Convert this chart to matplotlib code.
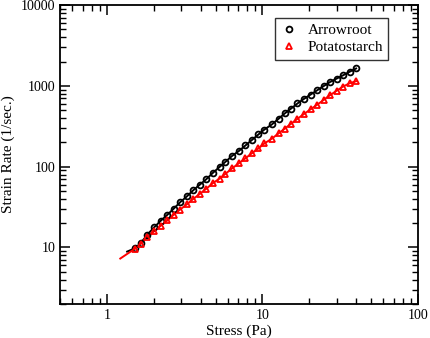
import matplotlib
matplotlib.use("Agg")
import matplotlib.pyplot as plt
from matplotlib.ticker import LogLocator, NullFormatter, FixedLocator, FixedFormatter

plt.rcParams['font.family'] = ['Liberation Serif', 'DejaVu Sans']

# Stress (Pa) at the measured points
stress = [1.52, 1.65, 1.82, 2.01, 2.22, 2.45, 2.69, 2.95, 3.27, 3.59, 3.96, 4.37, 4.80,
          5.30, 5.79, 6.39, 7.05, 7.78, 8.54, 9.42, 10.3, 11.5, 12.7, 13.9, 15.3, 16.8,
          18.5, 20.4, 22.5, 24.7, 27.1, 30.0, 33.0, 36.5, 40.0]
# Strain rate (1/sec.)
arrowroot = [9.8, 11.3, 14.4, 17.7, 21.4, 25.4, 30.2, 36.1, 42.9, 51.0, 59.9, 70.3, 83.7,
             99.0, 115, 136, 156, 183, 213, 250, 288, 333, 391, 455, 524, 605, 690, 780,
             882, 990, 1110, 1230, 1350, 1500, 1640]
potato = [9.7, 11.1, 13.4, 15.8, 18.6, 21.6, 25.4, 29.4, 34.2, 39.8, 46.0, 53.6, 62.4,
          71.3, 81.6, 95.3, 110, 127, 146, 168, 194, 222, 258, 295, 340, 391, 448, 512,
          584, 667, 762, 870, 980, 1080, 1140]

fit_start_a = (1.35, 8.9)
fit_start_p = (1.22, 7.3)

fig = plt.figure(figsize=(4.31, 3.38), dpi=100)
ax = fig.add_axes([60/431, 1 - 304/338, (418-60)/431, (304-5)/338])

ax.plot([fit_start_a[0]] + stress, [fit_start_a[1]] + arrowroot, color='black', lw=1.4,
        zorder=2)
ax.plot([fit_start_p[0]] + stress, [fit_start_p[1]] + potato, color='red', lw=1.4,
        zorder=2)

ax.plot(stress, arrowroot, linestyle='none', marker='o', markersize=4.2,
        markerfacecolor='none', markeredgecolor='black', markeredgewidth=1.3,
        label='Arrowroot', zorder=3)
ax.plot(stress, potato, linestyle='none', marker='^', markersize=4.6,
        markerfacecolor='none', markeredgecolor='red', markeredgewidth=1.3,
        label='Potatostarch', zorder=3)

ax.set_xscale('log')
ax.set_yscale('log')
ax.set_xlim(0.5, 100)
ax.set_ylim(2, 10000)

for sp in ax.spines.values():
    sp.set_linewidth(1.3)

ax.tick_params(which='both', direction='in', top=True, right=True)
ax.tick_params(which='major', length=7, width=1.1, labelsize=10)
ax.tick_params(which='minor', length=4, width=1.0)
ax.xaxis.set_minor_locator(LogLocator(base=10, subs=range(2, 10)))
ax.yaxis.set_minor_locator(LogLocator(base=10, subs=range(2, 10)))
ax.xaxis.set_minor_formatter(NullFormatter())
ax.yaxis.set_minor_formatter(NullFormatter())
ax.xaxis.set_major_locator(FixedLocator([1, 10, 100]))
ax.xaxis.set_major_formatter(FixedFormatter(['1', '10', '100']))
ax.yaxis.set_major_locator(FixedLocator([10, 100, 1000, 10000]))
ax.yaxis.set_major_formatter(FixedFormatter(['10', '100', '1000', '10000']))

ax.set_xlabel('Stress (Pa)', fontsize=11, labelpad=2)
ax.set_ylabel('Strain Rate (1/sec.)', fontsize=11, labelpad=4)

leg = ax.legend(loc='upper right', bbox_to_anchor=(0.917, 0.955), frameon=True,
                fancybox=False, prop={'size': 11},
                handletextpad=0.6, borderpad=0.35, labelspacing=0.2,
                handlelength=1.2, borderaxespad=0)
leg.get_frame().set_edgecolor('black')
leg.get_frame().set_linewidth(1.0)

fig.savefig('out.png', dpi=100)
